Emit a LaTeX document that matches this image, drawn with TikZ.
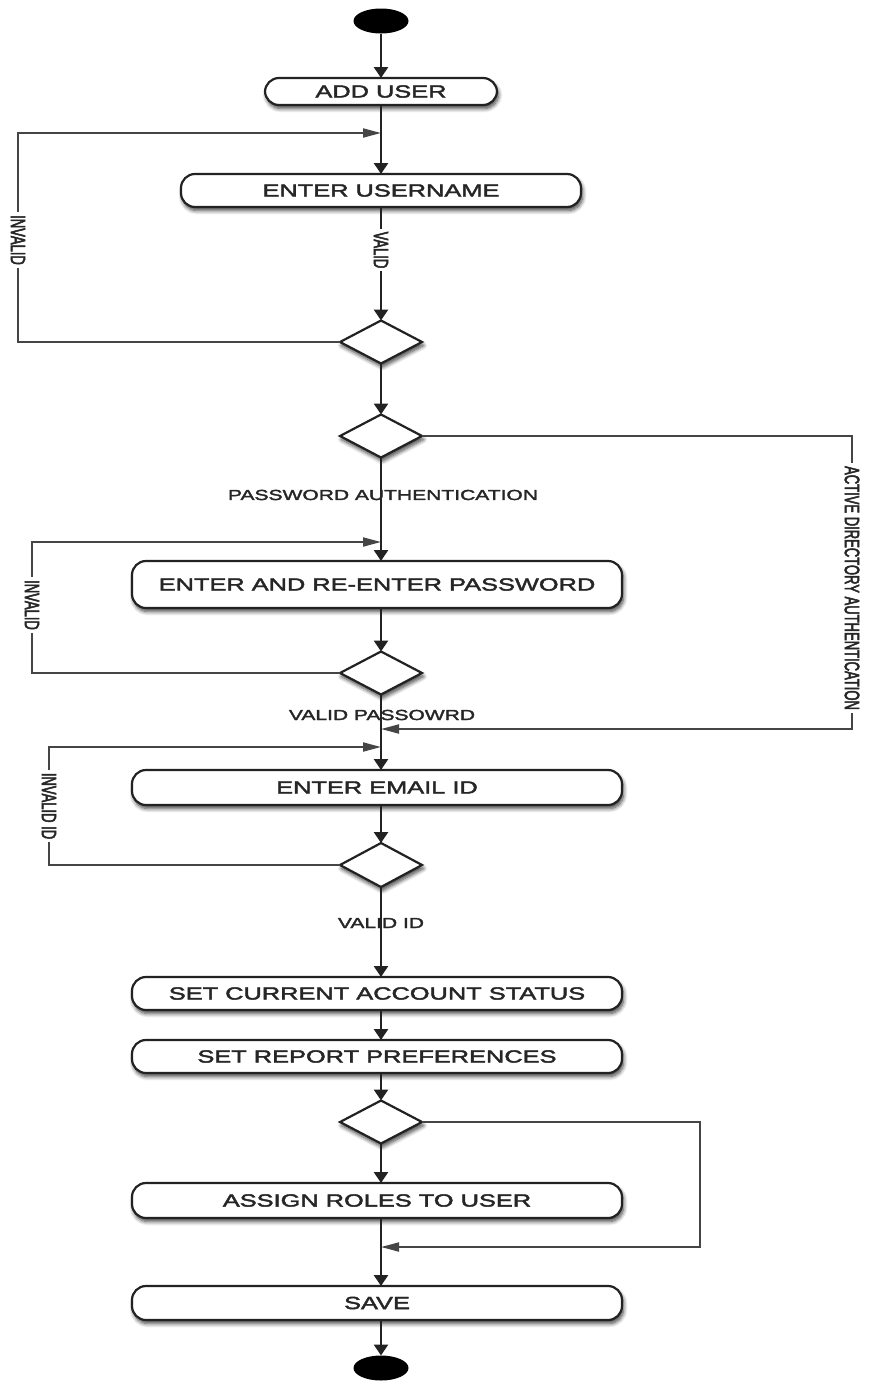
\documentclass[tikz,border=0pt]{standalone}
\usepackage{fontspec}
\setmainfont{Liberation Sans}
\newfontfamily\boxfont[FakeStretch=1.45,FakeBold=2.4]{Liberation Sans}
\newfontfamily\sidefont[FakeStretch=0.62,FakeBold=2.4]{Liberation Sans}
\usetikzlibrary{shapes.geometric,arrows.meta,shadows.blur}

\definecolor{ink}{HTML}{262626}
\definecolor{edge}{HTML}{222222}
\definecolor{loopline}{HTML}{454545}

\begin{document}
\begin{tikzpicture}[x=1pt,y=-1pt,
  every node/.style={inner sep=0pt,outer sep=0pt},
  soft/.style={blur shadow={shadow xshift=1.5pt,shadow yshift=-3.5pt,
      shadow blur radius=4pt,shadow blur steps=7,shadow opacity=75}},
  act/.style={draw=edge,line width=2.2pt,rounded corners=14pt,fill=white,soft,
      text=ink,font=\boxfont\fontsize{17.5}{20}\selectfont},
  dec/.style={diamond,draw=edge,line width=2.2pt,fill=white,soft,
      minimum width=82pt,minimum height=43pt},
  term/.style={ellipse,fill=black,minimum width=55pt,minimum height=25pt},
  flow/.style={draw=edge,line width=2.6pt,-{Triangle[length=11pt,width=14pt]}},
  back/.style={draw=loopline,line width=1.9pt,-{Triangle[length=18pt,width=9pt]}},
  guard/.style={text=ink,font=\boxfont\fontsize{14.5}{16}\selectfont},
  side/.style={rotate=-90,fill=white,inner sep=3pt,text=ink,
      font=\sidefont\fontsize{21}{22}\selectfont}]

\useasboundingbox (0,0) rectangle (868,1384);

% activity nodes
\node[term] (start) at (381,21) {};
\node[act,minimum width=232pt,minimum height=27pt] (add) at (381,91.5) {ADD USER};
\node[act,minimum width=400pt,minimum height=33pt] (user) at (381,190.5) {ENTER USERNAME};
\node[dec] (d1) at (381,342) {};
\node[dec] (d2) at (381,436) {};
\node[act,minimum width=490pt,minimum height=47pt] (pass) at (377,584.5) {ENTER AND RE-ENTER PASSWORD};
\node[dec] (d3) at (381,673) {};
\node[act,minimum width=490pt,minimum height=35pt] (email) at (377,787.5) {ENTER EMAIL ID};
\node[dec,minimum height=44pt] (d4) at (381,865) {};
\node[act,minimum width=490pt,minimum height=33pt] (status) at (377,993.5) {SET CURRENT ACCOUNT STATUS};
\node[act,minimum width=490pt,minimum height=33pt] (prefs) at (377,1056.5) {SET REPORT PREFERENCES};
\node[dec] (d5) at (381,1122) {};
\node[act,minimum width=490pt,minimum height=35pt] (assign) at (377,1200.5) {ASSIGN ROLES TO USER};
\node[act,minimum width=490pt,minimum height=34pt] (save) at (377,1303) {SAVE};
\node[term] (finish) at (381,1368) {};

% merge points and corners of the loops
\coordinate (m1) at (381,133);  \coordinate (k1) at (18,133);
\coordinate (m2) at (381,542);  \coordinate (k2) at (32,542);
\coordinate (m3) at (381,729);  \coordinate (k3) at (852,436);
\coordinate (m4) at (381,747);  \coordinate (k4) at (49,747);
\coordinate (m5) at (381,1247); \coordinate (k5) at (700,1122);

% main flow
\draw[flow] (start) -- (add);
\draw[flow] (add) -- (user);
\draw[flow] (user) -- (d1);
\draw[flow] (d1) -- (d2);
\draw[flow] (d2.south) -- (d2.south |- pass.north);
\draw[flow] (pass.south -| d3) -- (d3.north);
\draw[flow] (d3.south) -- (d3.south |- email.north);
\draw[flow] (email.south -| d4) -- (d4.north);
\draw[flow] (d4.south) -- (d4.south |- status.north);
\draw[flow] (status.south -| d5) -- (d5 |- prefs.north);
\draw[flow] (prefs.south -| d5) -- (d5.north);
\draw[flow] (d5.south) -- (d5.south |- assign.north);
\draw[flow] (assign.south -| d5) -- (d5 |- save.north);
\draw[flow] (save.south -| finish) -- (finish);

% loops back and bypasses
\draw[back] (d1.west) -| (k1) -- (m1);
\draw[back] (d3.west) -| (k2) -- (m2);
\draw[back] (d2.east) -- (k3) |- (m3);
\draw[back] (d4.west) -| (k4) -- (m4);
\draw[back] (d5.east) -- (k5) |- (m5);

% guard labels
\node[side] (lvalid) at (381,250) {VALID};
\node[side] (linv1) at (18,240) {INVALID};
\node[side] (linv2) at (32,605) {INVALID};
\node[side] (lad) at (852,588) {ACTIVE DIRECTORY AUTHENTICATION};
\node[side] (linv3) at (49,806) {INVALID ID};
\node[guard] (lpwa) at (383,495) {PASSWORD AUTHENTICATION};
\node[guard] (lvpw) at (382,715) {VALID PASSOWRD};
\node[guard] (lvid) at (381,923) {VALID ID};
\end{tikzpicture}
\end{document}
